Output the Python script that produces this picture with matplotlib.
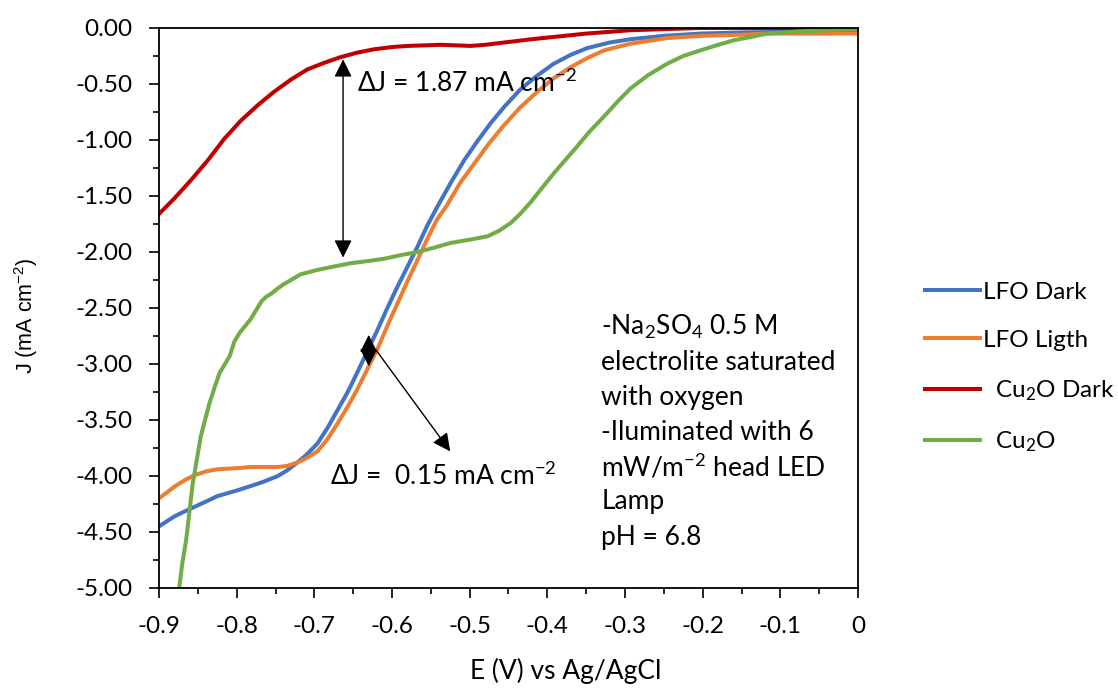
import matplotlib
matplotlib.use("Agg")
import matplotlib.pyplot as plt
from matplotlib.ticker import MultipleLocator, FuncFormatter

plt.rcParams['font.family'] = ['Lato', 'DejaVu Sans']
plt.rcParams['mathtext.default'] = 'regular'
plt.rcParams['axes.unicode_minus'] = False

# LFO Dark
lfo_dark_e = [-0.900, -0.880, -0.859, -0.840, -0.825, -0.800, -0.782, -0.765, -0.747, -0.735,
              -0.722, -0.710, -0.696, -0.683, -0.670, -0.657, -0.645, -0.632, -0.619, -0.606,
              -0.593, -0.580, -0.567, -0.555, -0.542, -0.525, -0.507, -0.490, -0.473, -0.455,
              -0.435, -0.414, -0.392, -0.370, -0.349, -0.320, -0.293, -0.250, -0.203, -0.150,
              -0.100, -0.050, 0.000]
lfo_dark_j = [-4.45, -4.36, -4.29, -4.23, -4.18, -4.13, -4.09, -4.05, -4.00, -3.95,
              -3.88, -3.81, -3.71, -3.57, -3.41, -3.25, -3.08, -2.89, -2.70, -2.50,
              -2.31, -2.13, -1.95, -1.77, -1.60, -1.39, -1.18, -1.01, -0.85, -0.70,
              -0.55, -0.43, -0.32, -0.24, -0.18, -0.13, -0.10, -0.07, -0.05, -0.04,
              -0.035, -0.03, -0.03]

# LFO Ligth
lfo_light_e = [-0.900, -0.879, -0.865, -0.853, -0.840, -0.825, -0.800, -0.782, -0.760, -0.747,
               -0.735, -0.722, -0.710, -0.696, -0.683, -0.670, -0.657, -0.645, -0.632, -0.619,
               -0.606, -0.593, -0.580, -0.567, -0.555, -0.542, -0.529, -0.512, -0.494, -0.475,
               -0.456, -0.435, -0.413, -0.392, -0.370, -0.349, -0.327, -0.293, -0.246, -0.200,
               -0.150, -0.117, -0.050, 0.000]
lfo_light_j = [-4.20, -4.09, -4.03, -3.99, -3.96, -3.94, -3.93, -3.92, -3.92, -3.92,
               -3.91, -3.88, -3.84, -3.78, -3.67, -3.53, -3.38, -3.23, -3.05, -2.87,
               -2.66, -2.46, -2.26, -2.07, -1.89, -1.71, -1.58, -1.38, -1.21, -1.03,
               -0.87, -0.71, -0.57, -0.45, -0.35, -0.27, -0.20, -0.14, -0.09, -0.07,
               -0.06, -0.05, -0.05, -0.05]

# Cu2O Dark
cu2o_dark_e = [-0.900, -0.880, -0.859, -0.837, -0.816, -0.795, -0.773, -0.752, -0.730, -0.709,
               -0.687, -0.666, -0.645, -0.623, -0.600, -0.580, -0.537, -0.499, -0.480, -0.456,
               -0.420, -0.392, -0.350, -0.293, -0.250, -0.203, 0.000]
cu2o_dark_j = [-1.66, -1.52, -1.36, -1.18, -0.99, -0.83, -0.69, -0.57, -0.46, -0.37,
               -0.31, -0.26, -0.22, -0.19, -0.17, -0.16, -0.15, -0.16, -0.15, -0.13,
               -0.10, -0.08, -0.05, -0.02, -0.01, 0.00, 0.00]

# Cu2O (illuminated)
cu2o_e = [-0.874, -0.870, -0.865, -0.861, -0.857, -0.852, -0.846, -0.840, -0.835, -0.828,
          -0.822, -0.816, -0.809, -0.803, -0.796, -0.789, -0.782, -0.775, -0.768, -0.762,
          -0.755, -0.748, -0.740, -0.730, -0.718, -0.707, -0.696, -0.675, -0.653, -0.630,
          -0.610, -0.590, -0.567, -0.545, -0.525, -0.500, -0.477, -0.462, -0.447, -0.435,
          -0.422, -0.407, -0.392, -0.377, -0.362, -0.345, -0.327, -0.310, -0.293, -0.270,
          -0.246, -0.225, -0.203, -0.180, -0.160, -0.138, -0.117, -0.095, -0.075, -0.040,
          -0.010, 0.000]
cu2o_j = [-5.00, -4.78, -4.57, -4.33, -4.09, -3.88, -3.64, -3.48, -3.35, -3.20,
          -3.08, -3.01, -2.93, -2.80, -2.72, -2.66, -2.60, -2.52, -2.44, -2.40,
          -2.37, -2.33, -2.29, -2.25, -2.20, -2.18, -2.16, -2.13, -2.10, -2.08,
          -2.06, -2.03, -2.00, -1.96, -1.92, -1.89, -1.86, -1.81, -1.74, -1.66,
          -1.56, -1.43, -1.30, -1.18, -1.06, -0.92, -0.79, -0.66, -0.54, -0.42,
          -0.32, -0.25, -0.20, -0.15, -0.11, -0.08, -0.05, -0.04, -0.03, -0.02,
          -0.01, -0.01]

notes = ["-Na$_2$SO$_4$ 0.5 M", "electrolite saturated", "with oxygen",
         "-Iluminated with 6", "mW/m$^{-2}$ head LED", "Lamp", "pH = 6.8"]

fig = plt.figure(figsize=(11.18, 6.89), dpi=100)
ax = fig.add_axes([159 / 1118, 1 - 588 / 689, 699 / 1118, 560 / 689])

lw = 2.9
ax.plot(lfo_dark_e, lfo_dark_j, color="#4472C4", lw=lw, label="LFO Dark", solid_joinstyle="round")
ax.plot(lfo_light_e, lfo_light_j, color="#ED7D31", lw=lw, label="LFO Ligth", solid_joinstyle="round")
ax.plot(cu2o_dark_e, cu2o_dark_j, color="#C00000", lw=lw, label="  Cu$_2$O Dark", solid_joinstyle="round")
ax.plot(cu2o_e, cu2o_j, color="#70AD47", lw=lw, label="  Cu$_2$O", solid_joinstyle="round")

ax.set_xlim(-0.9, 0)
ax.set_ylim(-5, 0)
ax.xaxis.set_major_locator(MultipleLocator(0.1))
ax.xaxis.set_minor_locator(MultipleLocator(0.05))
ax.yaxis.set_major_locator(MultipleLocator(0.5))
ax.yaxis.set_minor_locator(MultipleLocator(0.25))
ax.xaxis.set_major_formatter(FuncFormatter(lambda v, p: "0" if abs(v) < 1e-9 else f"{v:.1f}"))
ax.yaxis.set_major_formatter(FuncFormatter(lambda v, p: "0.00" if abs(v) < 1e-9 else f"{v:.2f}"))
ax.tick_params(which="major", direction="out", length=7, width=1.2, labelsize=17.5, color="black")
ax.tick_params(which="minor", direction="out", length=4, width=1.2)
ax.tick_params(axis="x", which="major", pad=13)
ax.tick_params(axis="y", which="major", pad=12)
for s in ax.spines.values():
    s.set_linewidth(1.3)
    s.set_color("black")

ax.set_xlabel("E (V) vs Ag/AgCl", fontsize=19)
ax.xaxis.set_label_coords((566 - 159) / 699, -0.125)
fig.text(26 / 1118, 1 - 316 / 689, "J (mA cm$^{-2}$)", rotation=90, ha="center", va="center",
         fontsize=15.5, family="Liberation Sans")

# delta J arrows
ax.annotate("", xy=(-0.663, -2.05), xytext=(-0.663, -0.28),
            arrowprops=dict(arrowstyle="<|-|>,head_length=0.4,head_width=0.2", mutation_scale=27,
                            color="black", lw=1.0, shrinkA=0, shrinkB=0))
ax.text(-0.645, -0.571, "ΔJ = 1.87 mA cm$^{-2}$", fontsize=19, va="baseline", ha="left")

ax.annotate("", xy=(-0.630, -3.02), xytext=(-0.630, -2.74),
            arrowprops=dict(arrowstyle="<|-|>,head_length=0.4,head_width=0.2", mutation_scale=27,
                            color="black", lw=1.0, shrinkA=0, shrinkB=0))
ax.annotate("", xy=(-0.525, -3.78), xytext=(-0.619, -2.89),
            arrowprops=dict(arrowstyle="-|>,head_length=0.4,head_width=0.2", mutation_scale=27,
                            color="black", lw=1.0, shrinkA=0, shrinkB=0))
ax.text(-0.680, -4.08, "ΔJ =  0.15 mA cm$^{-2}$", fontsize=19, va="baseline", ha="left")

# experimental conditions
for i, line in enumerate(notes):
    ypx = 327 + 35 * i
    ax.text(-0.3305, -(ypx - 28) / 112, line, fontsize=19, va="center", ha="left")

leg = ax.legend(loc="center left", bbox_to_anchor=(913 / 1118, 1 - 368 / 689),
                bbox_transform=fig.transFigure, frameon=False, fontsize=17.5,
                handlelength=2.25, handletextpad=0.12, labelspacing=1.12, borderpad=0)

fig.savefig("out.png", dpi=100)
